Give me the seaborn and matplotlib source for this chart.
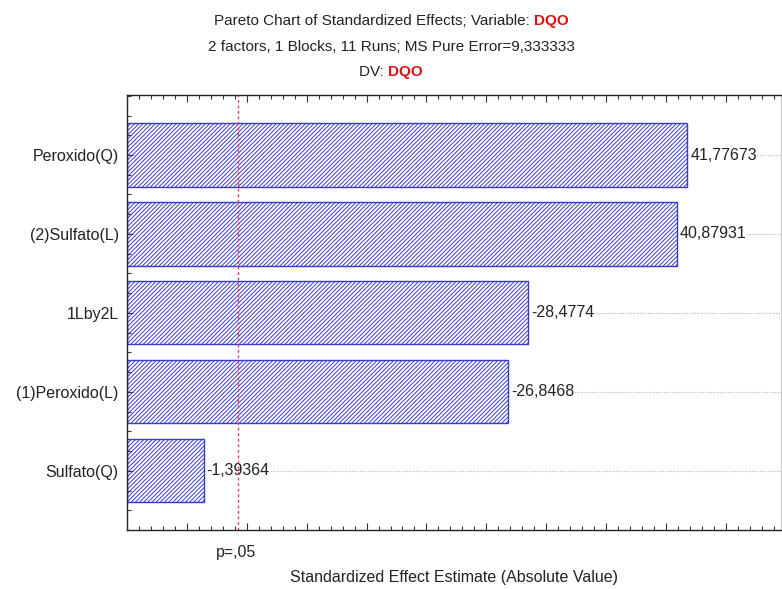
import matplotlib
matplotlib.use("Agg")
import matplotlib.pyplot as plt
from matplotlib.ticker import MultipleLocator
import seaborn as sns
import pandas as pd
import numpy as np

# ---- data ----
factors = ["Peroxido(Q)", "(2)Sulfato(L)", "1Lby2L", "(1)Peroxido(L)", "Sulfato(Q)"]
effects = [41.77673, 40.87931, -28.4774, -26.8468, -1.39364]
effect_labels = ["41,77673", "40,87931", "-28,4774", "-26,8468", "-1,39364"]
p_crit = 4.302653
p_label = "p=,05"
x_min, x_max = -5, 49.6

sns.set_theme(style="white")
plt.rcParams['font.family'] = ['Liberation Sans', 'DejaVu Sans']
plt.rcParams['hatch.linewidth'] = 0.7

df = pd.DataFrame({"factor": factors, "abs_effect": np.abs(effects)})

fig = plt.figure(figsize=(7.82, 5.89), dpi=100)
ax = fig.add_axes([127/782, 59/589, 654/782, 435/589])

blue = "#3a3ad0"
sns.barplot(data=df, x="abs_effect", y="factor", orient="h", ax=ax,
            width=0.8, color="white", edgecolor=blue, linewidth=1.0,
            hatch="////////", saturation=1)
# Statistica-style: bars grow from the left edge of the axis
for p, v in zip(ax.patches, np.abs(effects)):
    p.set_facecolor("white")
    p.set_edgecolor(blue)
    p.set_x(x_min)
    p.set_width(v - x_min)
    p.set_zorder(2)

ax.set_axisbelow(False)
ax.set_xlim(x_min, x_max)
ax.set_ylim(4.75, -0.76)

fs = 11.5
# dotted gridlines and value labels
for i, (v, lab) in enumerate(zip(np.abs(effects), effect_labels)):
    ax.plot([v, x_max], [i, i], linestyle=(0, (1, 1.5)), color="#b0b0b0",
            linewidth=0.8, zorder=1)
    ax.text(v + 0.25, i, lab, va="center", ha="left", fontsize=fs,
            color="#222222", zorder=3,
            bbox=dict(facecolor="white", edgecolor="none", pad=0.3))

# p-line
ax.axvline(p_crit, color="#e0405a", linestyle=(0, (2, 2)), linewidth=1.0, zorder=4)
ax.text(p_crit - 0.2, -0.035, p_label, transform=ax.get_xaxis_transform(),
        ha="center", va="top", fontsize=fs, color="#222222")

# axes styling
ax.set_ylabel("")
ax.set_xlabel("Standardized Effect Estimate (Absolute Value)", fontsize=fs,
              color="#222222", labelpad=29)
ax.xaxis.set_major_locator(MultipleLocator(5))
ax.xaxis.set_minor_locator(MultipleLocator(1))
ax.yaxis.set_minor_locator(MultipleLocator(0.25))
ax.tick_params(axis="x", which="both", direction="in", top=True, bottom=True,
               labelbottom=False, color="#333333")
ax.tick_params(axis="x", which="major", length=5, width=0.8)
ax.tick_params(axis="x", which="minor", length=3, width=0.8)
ax.tick_params(axis="y", which="both", direction="in", left=True, right=False,
               length=3, width=0.8, color="#333333")
ax.tick_params(axis="y", which="major", length=4, labelsize=fs,
               labelcolor="#222222", pad=6)
for s in ["left", "bottom", "top"]:
    ax.spines[s].set_color("#222222")
    ax.spines[s].set_linewidth(1.0)
ax.spines["right"].set_color("#c8c8c8")
ax.spines["right"].set_linewidth(0.8)

# ---- title with colored parts ----
fig.canvas.draw()
renderer = fig.canvas.get_renderer()

def mixed_line(parts, y, cx=391/782, size=11):
    texts = []
    widths = []
    for s, c, w in parts:
        t = fig.text(0, y, s, color=c, fontweight=w, fontsize=size,
                     ha="left", va="center")
        bb = t.get_window_extent(renderer=renderer)
        texts.append(t)
        widths.append(bb.width / fig.bbox.width)
    total = sum(widths)
    x = cx - total / 2
    for t, w in zip(texts, widths):
        t.set_x(x)
        x += w

mixed_line([("Pareto Chart of Standardized Effects; Variable: ", "#222222", "normal"),
            ("DQO", "#e01010", "bold")], 1 - 21/589)
mixed_line([("2 factors, 1 Blocks, 11 Runs; MS Pure Error=9,333333", "#222222", "normal")],
           1 - 47/589)
mixed_line([("DV: ", "#222222", "normal"), ("DQO", "#e01010", "bold")], 1 - 72/589)

fig.savefig("out.png", dpi=100)
